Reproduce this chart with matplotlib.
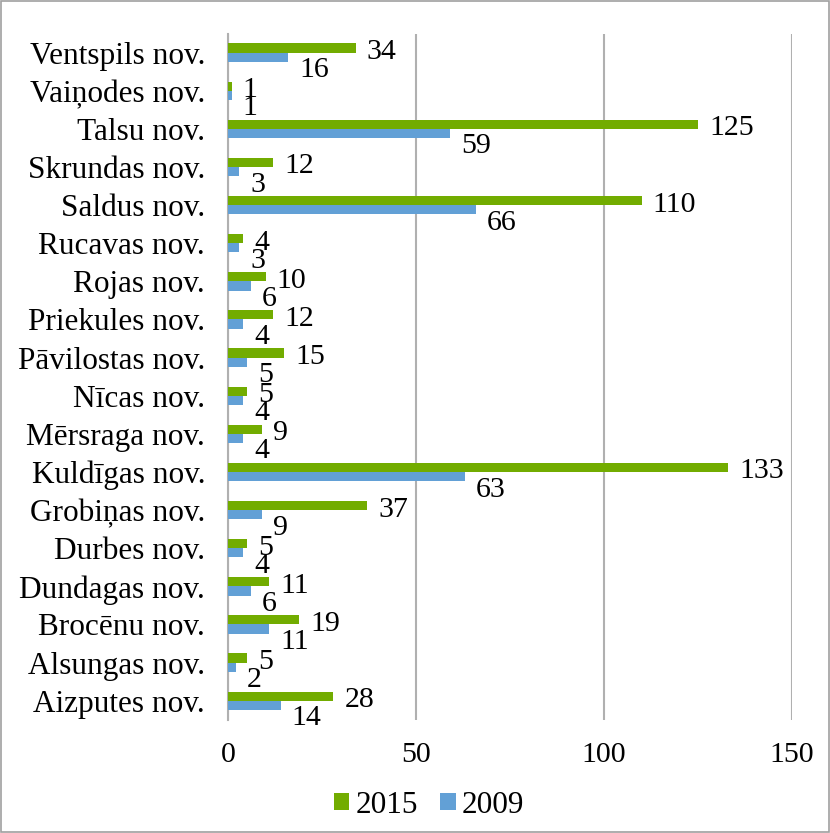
import matplotlib.pyplot as plt
import numpy as np
from matplotlib.patches import Rectangle

plt.rcParams['font.family'] = ['Liberation Serif', 'DejaVu Serif']

# kategorijas no apakšas uz augšu
novadi = ["Aizputes nov.", "Alsungas nov.", "Brocēnu nov.", "Dundagas nov.",
          "Durbes nov.", "Grobiņas nov.", "Kuldīgas nov.", "Mērsraga nov.",
          "Nīcas nov.", "Pāvilostas nov.", "Priekules nov.", "Rojas nov.",
          "Rucavas nov.", "Saldus nov.", "Skrundas nov.", "Talsu nov.",
          "Vaiņodes nov.", "Ventspils nov."]
v2015 = [28, 5, 19, 11, 5, 37, 133, 9, 5, 15, 12, 10, 4, 110, 12, 125, 1, 34]
v2009 = [14, 2, 11, 6, 4, 9, 63, 4, 4, 5, 4, 6, 3, 66, 3, 59, 1, 16]
xticks = [0, 50, 100, 150]

green = '#72ac00'
blue = '#62a0d6'
grid = '#b0b0b0'
fs_cat = 22.5
fs_num = 21.5

fig = plt.figure(figsize=(8.30, 8.33), dpi=100)
ax = fig.add_axes([0.2747, 0.1359, 0.6795, 0.8238])

y = np.arange(len(novadi))
h = 0.24
ax.barh(y + h / 2, v2015, height=h, color=green, label='2015', zorder=3)
ax.barh(y - h / 2, v2009, height=h, color=blue, label='2009', zorder=3)

# datu etiķetes
for yi, a, b in zip(y, v2015, v2009):
    ax.annotate(str(a), (a, yi + h / 2), xytext=(11, -4), textcoords='offset pixels',
                ha='left', va='center', fontsize=fs_num)
    ax.annotate(str(b), (b, yi - h / 2), xytext=(11, -13), textcoords='offset pixels',
                ha='left', va='center', fontsize=fs_num)

ax.set_xlim(0, 150)
ax.set_ylim(-0.5, len(novadi) - 0.5)
ax.set_yticks(y)
ax.set_yticklabels(novadi, fontsize=fs_cat)
ax.set_xticks(xticks)
ax.set_xticklabels([str(t) for t in xticks], fontsize=fs_num)
ax.tick_params(axis='y', length=0, pad=16.5)
ax.tick_params(axis='x', length=0, pad=16)
ax.xaxis.grid(True, color=grid, linewidth=1.5, zorder=0)
for s in ['top', 'right', 'bottom']:
    ax.spines[s].set_visible(False)
ax.spines['left'].set_color(grid)
ax.spines['left'].set_linewidth(1.5)

fig.legend(loc='center', bbox_to_anchor=(0.517, 0.0336), ncol=2, frameon=False,
           fontsize=fs_cat, handlelength=0.5, handleheight=0.5, handletextpad=0.2,
           columnspacing=0.7)

fig.patches.append(Rectangle((0.001, 0.001), 0.998, 0.998, transform=fig.transFigure,
                             fill=False, edgecolor='#a0a0a0', linewidth=1.2))

fig.savefig('out.png', dpi=100)
